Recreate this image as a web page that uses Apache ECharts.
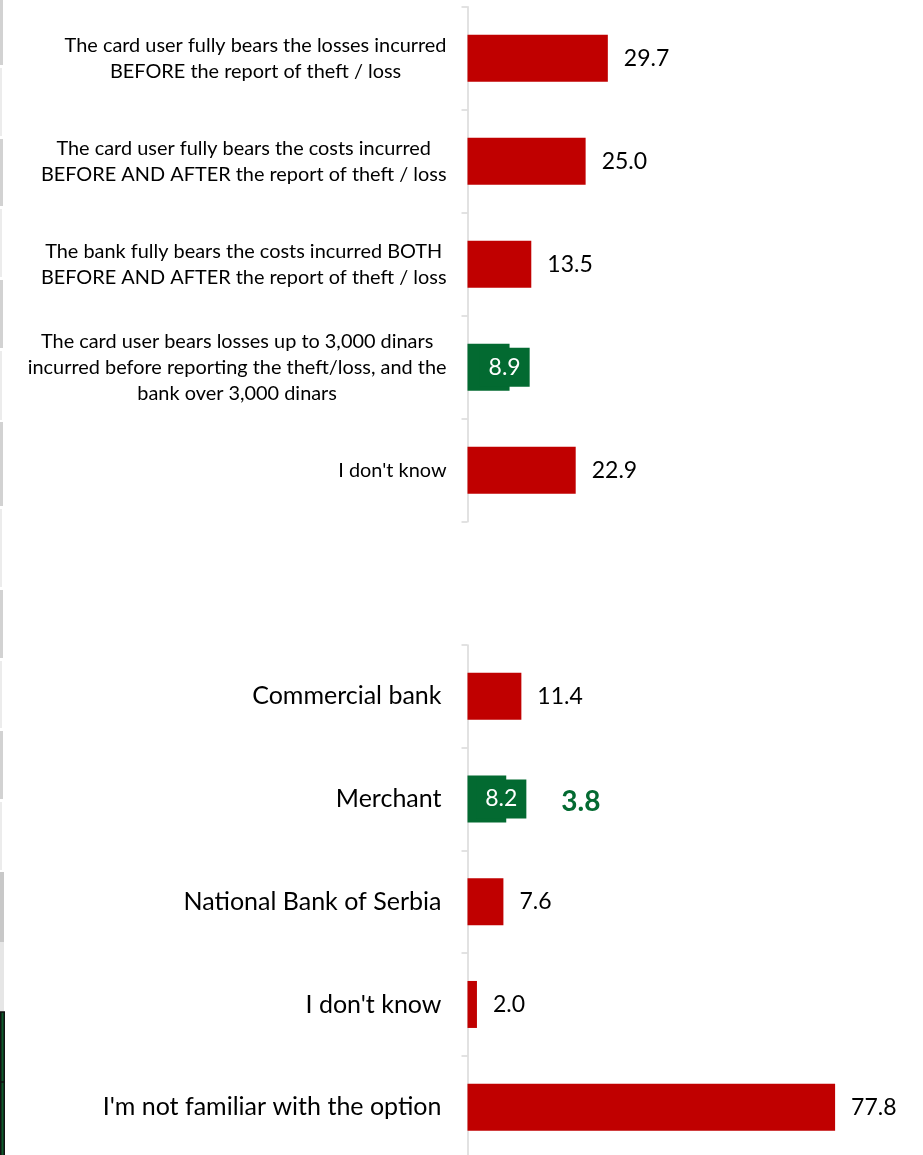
<!DOCTYPE html>
<html>
<head>
<meta charset="utf-8">
<script src="https://cdn.jsdelivr.net/npm/echarts@6/dist/echarts.min.js"></script>
<style>
  html, body { margin: 0; padding: 0; background: #ffffff; }
  #chart { width: 923px; height: 1155px; }
</style>
</head>
<body>
<div id="chart"></div>
<script>
// Who bears the losses after a card theft / loss (%)
const liabilityCategories = [
  'The card user fully bears the losses incurred\nBEFORE the report of theft / loss',
  'The card user fully bears the costs incurred\nBEFORE AND AFTER the report of theft / loss',
  'The bank fully bears the costs incurred BOTH\nBEFORE AND AFTER the report of theft / loss',
  'The card user bears losses up to 3,000 dinars\nincurred before reporting the theft/loss, and the\nbank over 3,000 dinars',
  "I don't know"
];
const liabilityValues = [29.7, 25.0, 13.5, 8.9, 22.9];
const liabilityCorrect = 3;

// Where a complaint can be filed (%)
const complaintCategories = [
  'Commercial bank',
  'Merchant',
  'National Bank of Serbia',
  "I don't know",
  "I'm not familiar with the option"
];
const complaintValues = [11.4, 8.2, 7.6, 2.0, 77.8];
const complaintNotes = [null, 3.8, null, null, null];
const complaintCorrect = 1;

const RED = '#c00000';
const GREEN = '#036a31';
const AXIS_GRAY = '#d9d9d9';
const FONT = 'Lato, "Open Sans", sans-serif';
const VALUE_MAX = 90;
const PLOT_LEFT = 467.5;
const PLOT_WIDTH = 425.25;

function categoryLabel(text) {
  return text.split('\n').map(line => '{c|' + line + '}').join('\n');
}

function barData(values, correctIndex, notes) {
  return values.map((v, i) => {
    const item = { value: v, itemStyle: { color: RED } };
    if (i === correctIndex) {
      item.itemStyle = { color: GREEN };
      const note = notes && notes[i] != null ? '{note|' + notes[i].toFixed(1) + '}' : '';
      item.label = {
        position: 'right',
        distance: 0,
        offset: [-30, 0],
        formatter: '{box|' + v.toFixed(1) + '}' + note,
        rich: {
          box: {
            backgroundColor: GREEN,
            color: '#ffffff',
            fontFamily: FONT,
            fontSize: 23,
            lineHeight: 25,
            padding: [8, 9, 8, 9]
          },
          note: {
            color: GREEN,
            fontFamily: FONT,
            fontSize: 28,
            fontWeight: 'bold',
            padding: [6, 0, 0, 35],
            verticalAlign: 'middle'
          }
        }
      };
    }
    return item;
  });
}

function categoryAxis(gridIndex, data, fontSize, lineHeight, margin) {
  return {
    type: 'category',
    gridIndex: gridIndex,
    data: data,
    inverse: true,
    axisLine: { show: true, lineStyle: { color: AXIS_GRAY, width: 1.5 } },
    axisTick: { show: true, length: 6, lineStyle: { color: AXIS_GRAY, width: 1.5 } },
    axisLabel: {
      margin: margin,
      color: '#000000',
      fontFamily: FONT,
      fontSize: fontSize,
      lineHeight: lineHeight,
      formatter: categoryLabel,
      rich: {
        c: { align: 'center', color: '#000000', fontFamily: FONT, fontSize: fontSize, lineHeight: lineHeight }
      }
    },
    splitLine: { show: false }
  };
}

function valueAxis(gridIndex) {
  return {
    type: 'value',
    gridIndex: gridIndex,
    min: 0,
    max: VALUE_MAX,
    show: false,
    splitLine: { show: false }
  };
}

function barSeries(index, values, correctIndex, notes) {
  return {
    type: 'bar',
    xAxisIndex: index,
    yAxisIndex: index,
    barWidth: 47,
    data: barData(values, correctIndex, notes),
    label: {
      show: true,
      position: 'right',
      distance: 16,
      color: '#000000',
      fontFamily: FONT,
      fontSize: 23,
      formatter: p => Number(p.value).toFixed(1)
    },
    emphasis: { disabled: true },
    animation: false
  };
}

// thin spreadsheet cell borders along the left edge
const edgeStrips = [
  [0, 65, '#d2d2d2', 3], [68, 136, '#ececec', 2], [139, 206, '#d2d2d2', 3],
  [209, 277, '#ececec', 2], [280, 348, '#d2d2d2', 3], [351, 420, '#ececec', 2],
  [422, 506, '#d2d2d2', 3], [509, 587, '#ececec', 2], [590, 658, '#d2d2d2', 3],
  [661, 728, '#ececec', 2], [731, 799, '#d2d2d2', 3], [802, 870, '#ececec', 2],
  [872, 942, '#c8c8c8', 4], [942, 1012, '#e6e6e6', 4]
];
const edgeGraphics = edgeStrips.map(s => ({
  type: 'rect',
  shape: { x: 0, y: s[0], width: s[3], height: s[1] - s[0] },
  style: { fill: s[2] },
  silent: true
}));
edgeGraphics.push(
  { type: 'rect', shape: { x: 0.75, y: 1012, width: 3.5, height: 145 },
    style: { fill: '#0e5a2c', stroke: '#111111', lineWidth: 1.5 }, silent: true },
  { type: 'line', shape: { x1: 0, y1: 1082, x2: 4.5, y2: 1082 },
    style: { stroke: '#111111', lineWidth: 1.5 }, silent: true }
);

const chart = echarts.init(document.getElementById('chart'), null, { renderer: 'canvas' });
chart.setOption({
  backgroundColor: '#ffffff',
  animation: false,
  grid: [
    { left: PLOT_LEFT, top: 6.7, width: PLOT_WIDTH, height: 515, containLabel: false, outerBoundsMode: 'none' },
    { left: PLOT_LEFT, top: 645, width: PLOT_WIDTH, height: 513.5, containLabel: false, outerBoundsMode: 'none' }
  ],
  xAxis: [valueAxis(0), valueAxis(1)],
  yAxis: [
    categoryAxis(0, liabilityCategories, 19.9, 26, 21),
    categoryAxis(1, complaintCategories, 25, 30, 26)
  ],
  series: [
    barSeries(0, liabilityValues, liabilityCorrect, null),
    barSeries(1, complaintValues, complaintCorrect, complaintNotes)
  ],
  graphic: edgeGraphics
});
</script>
</body>
</html>
